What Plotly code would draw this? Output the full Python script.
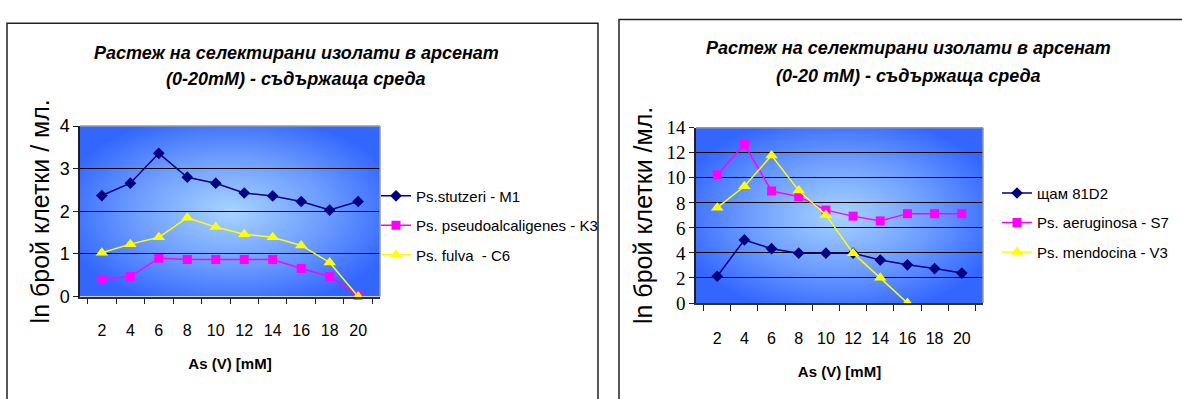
import base64
import plotly.graph_objects as go

# Arsenate concentration categories (mM)
conc = ["2", "4", "6", "8", "10", "12", "14", "16", "18", "20"]

# Left panel: ln cell count / ml
m1_stutzeri = [2.37, 2.66, 3.36, 2.80, 2.66, 2.43, 2.36, 2.23, 2.03, 2.23]
k3_pseudoalcaligenes = [0.40, 0.47, 0.90, 0.87, 0.87, 0.87, 0.87, 0.66, 0.47, 0.03]
c6_fulva = [1.03, 1.23, 1.39, 1.85, 1.63, 1.46, 1.39, 1.20, 0.80, 0.0]

# Right panel: ln cell count / ml
d2_81 = [2.14, 5.04, 4.34, 3.98, 3.98, 3.98, 3.43, 3.05, 2.75, 2.39]
s7_aeruginosa = [10.24, 12.66, 8.95, 8.50, 7.42, 6.94, 6.56, 7.14, 7.14, 7.14]
v3_mendocina = [7.62, 9.33, 11.78, 8.98, 7.04, 3.98, 2.01, 0.0, None, None]

left_names = ["Ps.stutzeri - M1", "Ps. pseudoalcaligenes - K3", "Ps. fulva  - C6"]
right_names = ["щам 81D2", "Ps. aeruginosa - S7", "Ps. mendocina - V3"]

title_line1 = "Растеж на селектирани изолати в арсенат"
left_title_line2 = "(0-20mM) - съдържаща среда"
right_title_line2 = "(0-20 mM) - съдържаща среда"
left_ytitle = "ln брой клетки / мл."
right_ytitle = "ln брой клетки /мл."
xtitle = "As (V) [mM]"

W, H = 1182, 399
NAVY, MAGENTA, YELLOW = "#000080", "#FF00FF", "#FFFF00"
SANS = "Liberation Sans, Arial, sans-serif"
NARROW = "Liberation Sans Narrow, Arial Narrow, Liberation Sans, sans-serif"
SERIF = "Liberation Serif"


def px_x(p):
    return p / W


def px_y(p):
    return 1 - p / H


# blue "from centre" fill for the plot areas
gradient_svg = (
    "<svg xmlns='http://www.w3.org/2000/svg' width='300' height='180' "
    "viewBox='0 0 300 180' preserveAspectRatio='none'>"
    "<defs><radialGradient id='g' cx='0.5' cy='0.5' r='0.58'>"
    "<stop offset='0' stop-color='#a8d4ff'/>"
    "<stop offset='0.55' stop-color='#6c9cff'/>"
    "<stop offset='1' stop-color='#3366ff'/>"
    "</radialGradient></defs>"
    "<rect width='300' height='180' fill='url(#g)'/></svg>"
)
gradient_src = "data:image/svg+xml;base64," + base64.b64encode(gradient_svg.encode()).decode()

fig = go.Figure()

styles = [
    (NAVY, "diamond", 9),
    (MAGENTA, "square", 9),
    (YELLOW, "triangle-up", 11),
]

for vals, name, (col, sym, sz) in zip(
    [m1_stutzeri, k3_pseudoalcaligenes, c6_fulva], left_names, styles
):
    fig.add_trace(go.Scatter(
        x=conc, y=vals, name=name, mode="lines+markers",
        line=dict(color=col, width=1.5),
        marker=dict(color=col, symbol=sym, size=sz),
        xaxis="x", yaxis="y", legend="legend", legendgroup=name,
        cliponaxis=False,
    ))

for vals, name, (col, sym, sz) in zip(
    [d2_81, s7_aeruginosa, v3_mendocina], right_names, styles
):
    fig.add_trace(go.Scatter(
        x=conc, y=vals, name=name, mode="lines+markers",
        line=dict(color=col, width=1.5),
        marker=dict(color=col, symbol=sym, size=sz),
        xaxis="x2", yaxis="y2", legend="legend2", legendgroup=name,
        cliponaxis=False,
    ))

# plot-area pixel boxes
L = dict(x0=80, x1=380, y0=122.5, y1=302.5)
R = dict(x0=696, x1=983, y0=124.3, y1=309.3)


def xaxis_cfg(box, anchor, label_pad):
    return dict(
        domain=[px_x(box["x0"]), px_x(box["x1"])], anchor=anchor,
        type="category", tickson="boundaries", ticks="outside", ticklen=6,
        tickcolor="#202020", showline=True, linecolor="#303030", linewidth=1.5,
        showgrid=False, ticklabelstandoff=label_pad,
        tickfont=dict(family=NARROW, size=16, color="black"),
        title=dict(text="<b>" + xtitle + "</b>", standoff=21,
                   font=dict(family=NARROW, size=15, color="black")),
        fixedrange=True,
    )


def yaxis_cfg(box, anchor, rng, dtick, font, title, standoff):
    return dict(
        domain=[px_y(box["y1"]), px_y(box["y0"])], anchor=anchor,
        range=rng, dtick=dtick, ticks="outside", ticklen=5, tickcolor="#202020",
        showline=True, linecolor="#202020", linewidth=1.5,
        showgrid=True, gridcolor="#000000", gridwidth=1, zeroline=False,
        tickfont=font,
        title=dict(text=title, standoff=standoff,
                   font=dict(family=SANS, size=25, color="black")),
        fixedrange=True,
    )


fig.update_layout(
    width=W, height=H, margin=dict(l=0, r=0, t=0, b=0),
    paper_bgcolor="white", plot_bgcolor="rgba(0,0,0,0)",
    showlegend=True,
    xaxis=xaxis_cfg(L, "y", 18),
    yaxis=yaxis_cfg(L, "x", [0, 4], 1, dict(family=SANS, size=18, color="black"),
                    left_ytitle, 3),
    xaxis2=xaxis_cfg(R, "y2", 20),
    yaxis2=yaxis_cfg(R, "x2", [0, 14], 2, dict(family=SERIF, size=19, color="black"),
                     right_ytitle, 7),
    legend=dict(x=px_x(376), y=px_y(179), xanchor="left", yanchor="top",
                bgcolor="rgba(0,0,0,0)", borderwidth=0, tracegroupgap=7,
                font=dict(family=SANS, size=15, color="black"), itemwidth=30),
    legend2=dict(x=px_x(997), y=px_y(176), xanchor="left", yanchor="top",
                 bgcolor="rgba(0,0,0,0)", borderwidth=0, tracegroupgap=7,
                 font=dict(family=SANS, size=15, color="black"), itemwidth=30),
)

for xr, yr in [("x", "y"), ("x2", "y2")]:
    fig.add_layout_image(dict(
        source=gradient_src, xref=xr + " domain", yref=yr + " domain",
        x=0, y=1, sizex=1, sizey=1, xanchor="left", yanchor="top",
        sizing="stretch", layer="below",
    ))
    # grey top and right edges of the plot area
    fig.add_shape(type="line", xref=xr + " domain", yref=yr + " domain",
                  x0=0, x1=1, y0=1, y1=1, line=dict(color="#9a9a9a", width=1.5))
    fig.add_shape(type="line", xref=xr + " domain", yref=yr + " domain",
                  x0=1, x1=1, y0=0, y1=1, line=dict(color="#9a9a9a", width=1.5))

# chart frames
fig.add_shape(type="rect", xref="paper", yref="paper",
              x0=px_x(7), x1=px_x(598), y0=px_y(420), y1=px_y(14),
              line=dict(color="#222222", width=1.5), layer="below")
fig.add_shape(type="rect", xref="paper", yref="paper",
              x0=px_x(619), x1=px_x(1200), y0=px_y(420), y1=px_y(10),
              line=dict(color="#222222", width=1.5), layer="below")

title_font = dict(family=NARROW, size=18, color="black")
for cx, y1, y2, line2 in [(296, 45, 73, left_title_line2), (908, 40, 70, right_title_line2)]:
    fig.add_annotation(x=px_x(cx), y=px_y(y1), xref="paper", yref="paper",
                       text="<b><i>" + title_line1 + "</i></b>", showarrow=False,
                       font=title_font, xanchor="center", yanchor="middle")
    fig.add_annotation(x=px_x(cx), y=px_y(y2), xref="paper", yref="paper",
                       text="<b><i>" + line2 + "</i></b>", showarrow=False,
                       font=title_font, xanchor="center", yanchor="middle")

fig.write_html("out.html")
